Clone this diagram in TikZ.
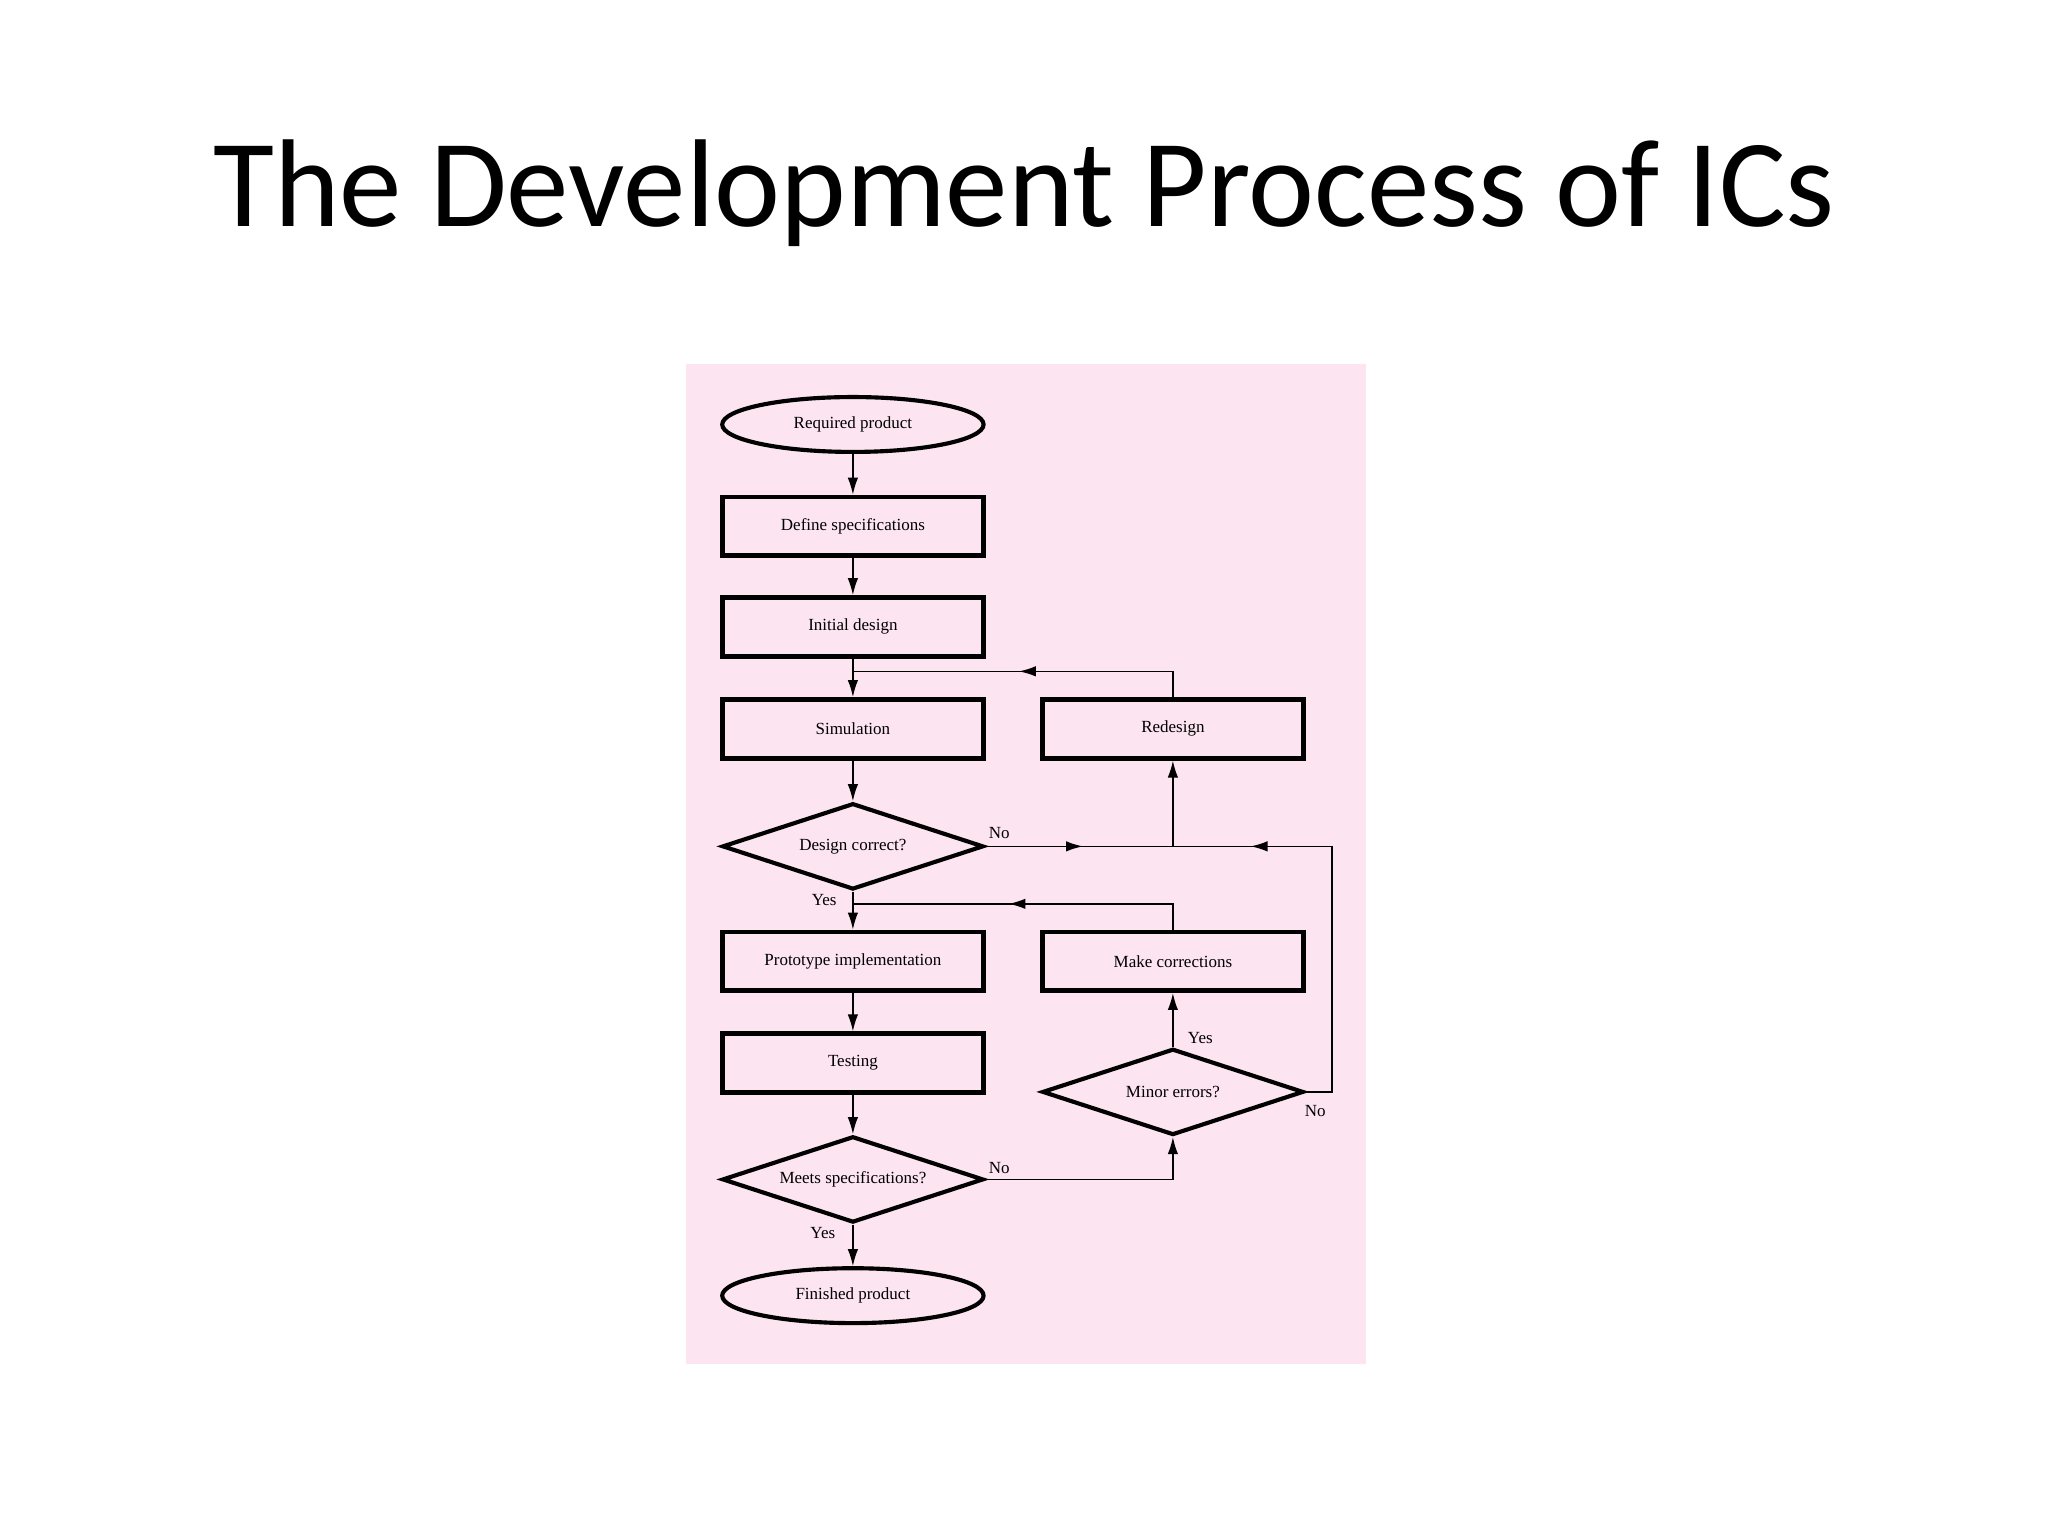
\documentclass[tikz,border=0pt]{standalone}
\usepackage{fontspec}
\setmainfont{Liberation Serif}
\newfontfamily\titlefont{Carlito}
\usetikzlibrary{shapes.geometric,arrows.meta,decorations.markings}
\definecolor{pinkbg}{HTML}{FCE4F0}
\tikzset{
  box/.style={draw,line width=1pt,minimum width=2cm,minimum height=0.45cm,inner sep=0pt,font=\fontsize{3.7}{4}\selectfont},
  oval/.style={draw,ellipse,line width=0.9pt,minimum width=2cm,minimum height=0.42cm,inner sep=0pt,font=\fontsize{3.7}{4}\selectfont},
  dec/.style={draw,diamond,aspect=3,line width=0.9pt,minimum width=2cm,minimum height=0.66cm,inner sep=0pt,font=\fontsize{3.7}{4}\selectfont},
  con/.style={line width=0.35pt,-{Latex[length=1.3mm,width=0.8mm]}},
  midarr/.style={line width=0.35pt,postaction={decorate},decoration={markings,mark=at position #1 with {\arrow{Latex[length=1.3mm,width=0.8mm]}}}},
  lab/.style={font=\fontsize{3.7}{4}\selectfont,inner sep=0pt}
}
\begin{document}
\begin{tikzpicture}[x=0.01cm,y=-0.01cm]
\useasboundingbox (0,0) rectangle (1568,1176);
\fill[white] (0,0) rectangle (1568,1176);
\node[font=\titlefont\fontsize{27.2}{30}\selectfont] (title) at (784,148) {The Development Process of ICs};
\fill[pinkbg] (525,279) rectangle (1046,1044);
\node[oval] (req) at (653,325) {Required product};
\node[box] (def) at (653,403) {Define specifications};
\node[box] (init) at (653,480) {Initial design};
\node[box] (sim) at (653,558) {Simulation};
\node[box] (red) at (898,558) {Redesign};
\node[dec] (dc) at (653,648) {Design correct?};
\node[box] (proto) at (653,736) {Prototype implementation};
\node[box] (mc) at (898,736) {Make corrections};
\node[box] (test) at (653,814) {Testing};
\node[dec] (me) at (898,836) {Minor errors?};
\node[dec] (ms) at (653,903) {Meets specifications?};
\node[oval] (fin) at (653,992) {Finished product};
\coordinate (j1) at (653,514);
\coordinate (j2) at (898,648);
\coordinate (j3) at (653,692);
\coordinate (rc) at (1020,648);
\draw[con] (req) -- (def);
\draw[con] (def) -- (init);
\draw[con] (init) -- (sim);
\draw[midarr=0.52] (red.north) |- (j1);
\draw[con] (sim) -- (dc);
\draw[midarr=0.52] (dc.east) -- (j2);
\draw[con] (j2) -- (red);
\draw[midarr=0.82] (me.east) -| (rc) -- (j2);
\draw[con] (dc.south) -- (proto);
\draw[midarr=0.55] (mc.north) |- (j3);
\draw[con] (proto) -- (test);
\draw[con] (test) -- (ms);
\draw[con] (ms.east) -| (me.south);
\draw[con] (me.north) -- (mc);
\draw[con] (ms.south) -- (fin);
\node[lab] (n1) at (765,638) {No};
\node[lab] (y1) at (631,689) {Yes};
\node[lab] (n2) at (765,894) {No};
\node[lab] (y2) at (919,795) {Yes};
\node[lab] (n3) at (1007,851) {No};
\node[lab] (y3) at (630,944) {Yes};
\end{tikzpicture}
\end{document}
